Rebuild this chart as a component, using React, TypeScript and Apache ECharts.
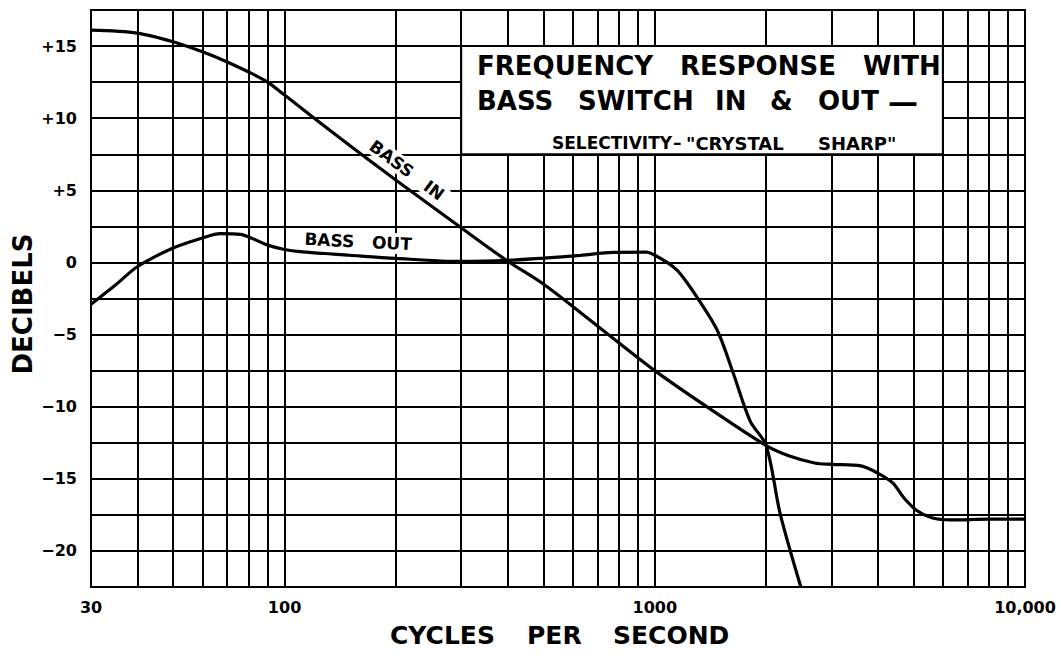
import React, { useEffect, useRef } from "react";
import * as echarts from "echarts";

// BASS IN curve: frequency (Hz) and response (dB)
const freqBassIn = [30, 40, 50, 60, 70, 80, 90, 100, 150, 200, 300, 400, 500, 700, 1000, 1400, 2000, 2300, 2700, 3000, 3600, 4000, 4400, 4700, 5100, 5600, 6300, 8000, 10000];
const dbBassIn = [16.1, 15.9, 15.3, 14.6, 13.9, 13.2, 12.5, 11.6, 8.1, 5.7, 2.4, 0.1, -1.5, -4.4, -7.5, -10.1, -12.7, -13.4, -13.9, -14.0, -14.1, -14.6, -15.3, -16.3, -17.2, -17.7, -17.85, -17.8, -17.8];

// BASS OUT curve
const freqBassOut = [30, 35, 40, 50, 60, 67, 76, 82, 90, 100, 110, 150, 200, 300, 400, 500, 630, 770, 950, 1000, 1080, 1150, 1210, 1300, 1475, 1630, 1810, 2000, 2180, 2480];
const dbBassOut = [-2.9, -1.55, -0.3, 1.0, 1.7, 2.0, 1.95, 1.65, 1.2, 0.9, 0.75, 0.5, 0.28, 0.07, 0.14, 0.3, 0.49, 0.7, 0.72, 0.5, 0.0, -0.55, -1.25, -2.4, -4.7, -7.7, -11, -12.7, -17.4, -22.5];

// grid lines between the decade ticks
const minorFreqs = [40, 50, 60, 70, 80, 90, 200, 300, 400, 500, 600, 700, 800, 900, 2000, 3000, 4000, 5000, 6000, 7000, 8000, 9000];

// title box extent (Hz, dB)
const boxFreq = [300, 6000];
const boxDb = [7.5, 15];

const FONT = "DejaVu Sans";

export default function App() {
  const ref = useRef<HTMLDivElement>(null);

  useEffect(() => {
    if (!ref.current) return;
    const chart = echarts.init(ref.current, null, { renderer: "svg" });
    const black = "#000";
    const option: any = {
      animation: false,
      backgroundColor: "#fff",
      grid: { left: 91, right: 36, top: 10, bottom: 75, show: true, borderColor: black, borderWidth: 2 },
      xAxis: {
        type: "log",
        logBase: 10,
        min: 30,
        max: 10000,
        axisLine: { show: true, lineStyle: { color: black, width: 2 } },
        axisTick: { show: false },
        splitLine: { show: true, lineStyle: { color: black, width: 2 } },
        axisLabel: {
          showMinLabel: true,
          showMaxLabel: true,
          color: black,
          fontFamily: FONT,
          fontWeight: "bold",
          fontSize: 16,
          margin: 12,
          formatter: (v: number) => {
            const r = Math.round(v);
            return r === 10000 ? "10,000" : String(r);
          },
        },
      },
      yAxis: {
        type: "value",
        min: -22.5,
        max: 17.5,
        interval: 2.5,
        axisLine: { show: true, lineStyle: { color: black, width: 2 } },
        axisTick: { show: false },
        splitLine: { show: true, lineStyle: { color: black, width: 2 } },
        axisLabel: {
          color: black,
          fontFamily: FONT,
          fontWeight: "bold",
          fontSize: 16,
          margin: 14,
          formatter: (v: number) => {
            if (Math.abs(v % 5) > 1e-6) return "";
            if (v > 0) return "+" + v;
            if (v < 0) return "\u2212" + Math.abs(v);
            return "0";
          },
        },
      },
      series: [
        {
          name: "BASS IN",
          type: "line",
          z: 5,
          data: freqBassIn.map((f, i) => [f, dbBassIn[i]]),
          showSymbol: false,
          smooth: 0.3,
          lineStyle: { color: black, width: 3.2 },
          markLine: {
            z: 1,
            silent: true,
            symbol: "none",
            label: { show: false },
            lineStyle: { color: black, width: 2, type: "solid" },
            data: minorFreqs.map((f) => ({ xAxis: f })),
          },
          markArea: {
            z: 3,
            silent: true,
            itemStyle: { color: "#fff", borderColor: black, borderWidth: 2 },
            data: [[{ xAxis: boxFreq[0], yAxis: boxDb[1] }, { xAxis: boxFreq[1], yAxis: boxDb[0] }]],
          },
        },
        {
          name: "BASS OUT",
          type: "line",
          z: 5,
          data: freqBassOut.map((f, i) => [f, dbBassOut[i]]),
          showSymbol: false,
          smooth: 0.3,
          lineStyle: { color: black, width: 3.2 },
        },
      ],
    };
    chart.setOption(option);

    const p1 = chart.convertToPixel({ gridIndex: 0 }, [100, 11.6]) as number[];
    const p2 = chart.convertToPixel({ gridIndex: 0 }, [1000, -7.5]) as number[];
    const ang = Math.atan2(p2[1] - p1[1], p2[0] - p1[0]);
    const inPos = chart.convertToPixel({ gridIndex: 0 }, [214, 6.4]) as number[];
    const outPos = chart.convertToPixel({ gridIndex: 0 }, [158, 1.45]) as number[];

    const word = (text: string, x: number, y: number, size: number) => ({
      type: "text",
      x,
      y,
      z: 20,
      style: { text, fill: black, font: `bold ${size}px "${FONT}"`, align: "left", verticalAlign: "middle" },
    });

    chart.setOption({
      graphic: [
        word("FREQUENCY", 477, 66, 26),
        word("RESPONSE", 680, 66, 26),
        word("WITH", 863, 66, 26),
        word("BASS", 477, 101, 26),
        word("SWITCH", 578, 101, 26),
        word("IN", 715, 101, 26),
        word("&", 770, 101, 26),
        word("OUT", 818, 101, 26),
        word("\u2014", 888, 101, 30),
        word("SELECTIVITY", 552, 143, 17),
        word("\u2013", 673, 143, 17),
        word("\"CRYSTAL", 686, 143, 18),
        word("SHARP\"", 818, 143, 18),
        word("CYCLES", 390, 635, 25),
        word("PER", 527, 635, 25),
        word("SECOND", 613, 635, 25),
        {
          type: "text",
          x: 23,
          y: 304,
          rotation: Math.PI / 2,
          z: 20,
          style: { text: "DECIBELS", fill: black, font: `bold 26px "${FONT}"`, align: "center", verticalAlign: "middle" },
        },
        {
          type: "text",
          x: inPos[0],
          y: inPos[1],
          rotation: -ang,
          z: 20,
          style: {
            text: "BASS   IN",
            fill: black,
            font: `bold 17px "${FONT}"`,
            align: "center",
            verticalAlign: "middle",
            backgroundColor: "#fff",
            padding: [1, 4],
          },
        },
        {
          type: "text",
          x: outPos[0],
          y: outPos[1],
          rotation: -0.05,
          z: 20,
          style: {
            text: "BASS   OUT",
            fill: black,
            font: `bold 17px "${FONT}"`,
            align: "center",
            verticalAlign: "middle",
            backgroundColor: "#fff",
            padding: [2, 4],
          },
        },
      ],
    });

    return () => chart.dispose();
  }, []);

  return <div ref={ref} style={{ position: "absolute", left: 0, top: 0, width: 1061, height: 662 }} />;
}
